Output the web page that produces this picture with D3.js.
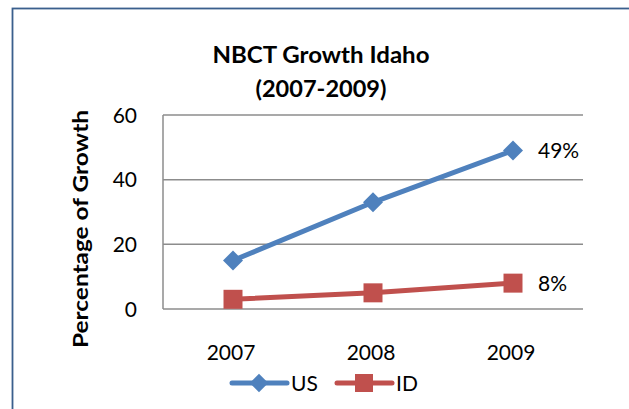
<!DOCTYPE html>
<html>
<head>
<meta charset="utf-8">
<script src="https://cdn.jsdelivr.net/npm/d3@7"></script>
<style>
  body { margin: 0; background: #fff; }
  svg { display: block; font-family: Lato, "Open Sans", sans-serif; }
</style>
</head>
<body>
<div id="chart"></div>
<script>
const anos = ["2007", "2008", "2009"];
const valoresUS = [15, 33, 49];
const valoresID = [3, 5, 8];
const ticksY = [0, 20, 40, 60];
const rotulosFinais = ["49%", "8%"];

const largura = 629;
const altura = 409;
const azul = "#4F81BD";
const vermelho = "#C0504D";

// losango quadrado (o d3.symbolDiamond e alto demais)
const losango = {
    draw(ctx, size) {
        const r = Math.sqrt(size) / 2;
        ctx.moveTo(0, -r);
        ctx.lineTo(r, 0);
        ctx.lineTo(0, r);
        ctx.lineTo(-r, 0);
        ctx.closePath();
    }
};

const svg = d3.select("#chart")
    .append("svg")
    .attr("width", largura)
    .attr("height", altura);

// moldura externa (so aparece em cima e a esquerda)
svg.append("rect")
    .attr("x", 12.5)
    .attr("y", 8.5)
    .attr("width", largura + 20)
    .attr("height", altura + 20)
    .attr("fill", "none")
    .attr("stroke", "#3A5F8D")
    .attr("stroke-width", 1.8);

// area do grafico
const x = d3.scaleBand().domain(anos).range([163, 583]);
const y = d3.scaleLinear().domain([0, 60]).range([309, 115]);
const cx = d => x(d) + x.bandwidth() / 2;

// linhas de grade
svg.selectAll(".grade")
    .data(ticksY)
    .enter()
    .append("line")
    .attr("x1", 163)
    .attr("x2", 583)
    .attr("y1", d => y(d))
    .attr("y2", d => y(d))
    .attr("stroke", "#8C8C8C")
    .attr("stroke-width", 1.5);

// eixo y (linha vertical)
svg.append("line")
    .attr("x1", 163)
    .attr("x2", 163)
    .attr("y1", y(60))
    .attr("y2", y(0))
    .attr("stroke", "#8C8C8C")
    .attr("stroke-width", 1.5);

// rotulos do eixo y
svg.selectAll(".label-y")
    .data(ticksY)
    .enter()
    .append("text")
    .text(d => d)
    .attr("x", 137)
    .attr("y", d => y(d))
    .attr("dy", "0.36em")
    .attr("text-anchor", "end")
    .attr("fill", "#000")
    .style("font-size", "21px");

// rotulos do eixo x
svg.selectAll(".label-x")
    .data(anos)
    .enter()
    .append("text")
    .text(d => d)
    .attr("x", d => cx(d) - 2)
    .attr("y", 360)
    .attr("text-anchor", "middle")
    .attr("fill", "#000")
    .style("font-size", "21px");

// series
const series = [
    { nome: "US", valores: valoresUS, cor: azul, forma: losango, tamanho: 400, tamLeg: 340 },
    { nome: "ID", valores: valoresID, cor: vermelho, forma: d3.symbolSquare, tamanho: 361, tamLeg: 324 }
];

const linha = d3.line()
    .x(d => cx(d.ano))
    .y(d => y(d.v));

series.forEach((s, k) => {
    const pts = anos.map((a, i) => ({ ano: a, v: s.valores[i] }));
    svg.append("path")
        .attr("d", linha(pts))
        .attr("fill", "none")
        .attr("stroke", s.cor)
        .attr("stroke-width", 5)
        .attr("stroke-linejoin", "round");

    svg.selectAll(".ponto-" + s.nome)
        .data(pts)
        .enter()
        .append("path")
        .attr("d", d3.symbol().type(s.forma).size(s.tamanho))
        .attr("transform", d => `translate(${cx(d.ano)},${y(d.v)})`)
        .attr("fill", s.cor);

    // rotulo do ultimo valor
    const ultimo = pts[pts.length - 1];
    svg.append("text")
        .text(rotulosFinais[k])
        .attr("x", 538)
        .attr("y", y(ultimo.v))
        .attr("dy", "0.36em")
        .attr("fill", "#000")
        .style("font-size", "21px");
});

// legenda
const legenda = svg.append("g").attr("transform", "translate(0,383)");
const posLegenda = [232, 337];
series.forEach((s, i) => {
    const g = legenda.append("g").attr("transform", `translate(${posLegenda[i]},0)`);
    g.append("line")
        .attr("x1", 0)
        .attr("x2", 55)
        .attr("stroke", s.cor)
        .attr("stroke-width", 5)
        .attr("stroke-linecap", "round");
    g.append("path")
        .attr("d", d3.symbol().type(s.forma).size(s.tamLeg))
        .attr("transform", "translate(27,0)")
        .attr("fill", s.cor);
    g.append("text")
        .text(s.nome)
        .attr("x", 59)
        .attr("dy", "0.36em")
        .attr("fill", "#000")
        .style("font-size", "21px");
});

// titulo do eixo y
svg.append("text")
    .attr("transform", "translate(88,229) rotate(-90)")
    .attr("text-anchor", "middle")
    .attr("fill", "#000")
    .attr("textLength", 238)
    .attr("lengthAdjust", "spacingAndGlyphs")
    .style("font-size", "21px")
    .style("font-weight", "bold")
    .text("Percentage of Growth");

// titulo
const titulo = svg.append("text")
    .attr("text-anchor", "middle")
    .attr("fill", "#000")
    .style("font-size", "22px")
    .style("font-weight", "bold");
titulo.append("tspan")
    .attr("x", 321).attr("y", 63)
    .attr("textLength", 217).attr("lengthAdjust", "spacingAndGlyphs")
    .text("NBCT Growth Idaho");
titulo.append("tspan")
    .attr("x", 321).attr("y", 97)
    .attr("textLength", 131).attr("lengthAdjust", "spacingAndGlyphs")
    .text("(2007-2009)");
</script>
</body>
</html>
